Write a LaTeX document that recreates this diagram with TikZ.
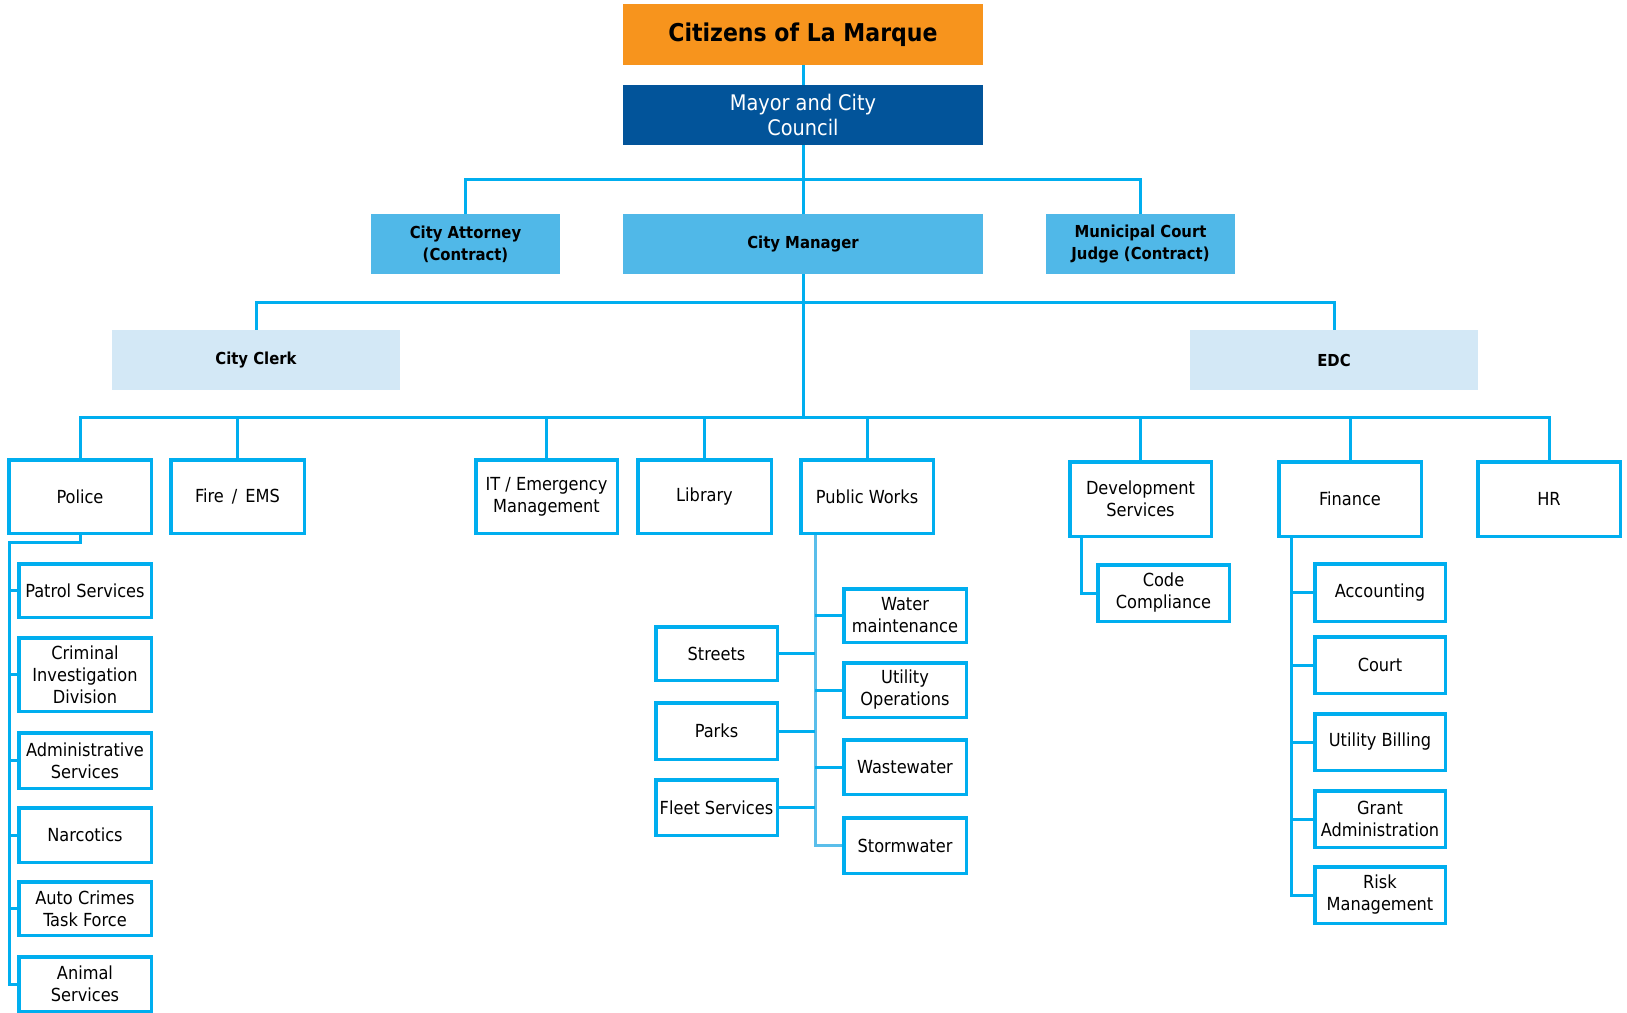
\documentclass[tikz,border=0pt]{standalone}
\usepackage{fontspec}
\setmainfont{DejaVu Sans Condensed}
\usetikzlibrary{calc}

\definecolor{linkblue}{HTML}{00AEEF}
\definecolor{spineblue}{HTML}{5ABEEA}
\definecolor{citorange}{HTML}{F7941D}
\definecolor{mayorblue}{HTML}{02549A}
\definecolor{midblue}{HTML}{50B8E8}
\definecolor{paleblue}{HTML}{D3E8F6}

\begin{document}
\begin{tikzpicture}[x=1pt,y=-1pt,
    conn/.style={draw=linkblue,line width=3pt},
    top/.style 2 args={align=center,inner sep=0pt,minimum width=#1,minimum height=#2},
    head/.style 2 args={top={#1}{#2},font=\bfseries\fontsize{16.5}{22}\selectfont},
    box/.style 2 args={draw=linkblue,line width=3.5pt,fill=white,align=center,inner sep=0pt,
        minimum width=#1-3.5,minimum height=#2-3.5,font=\fontsize{18}{22}\selectfont}]
    \useasboundingbox (0,0) rectangle (1627,1012);

    % Council and top offices
    \node[top={360}{61},fill=citorange,font=\bfseries\fontsize{24.5}{26}\selectfont] (citizens) at (803,34.5) {Citizens of La Marque};
    \node[top={360}{60},fill=mayorblue,text=white,font=\fontsize{21.5}{25}\selectfont] (mayor) at (803,115) {Mayor and City\\Council};
    \node[head={189}{60},fill=midblue] (attorney) at (465.5,244) {City Attorney\\(Contract)};
    \node[head={360}{60},fill=midblue] (manager) at (803,244) {City Manager};
    \node[head={189}{60},fill=midblue] (judge) at (1140.5,244) {Municipal Court\\Judge (Contract)};
    \node[head={288}{60},fill=paleblue] (clerk) at (256,360) {City Clerk};
    \node[head={288}{60},fill=paleblue] (edc) at (1334,360) {EDC};

    % Departments
    \node[box={146}{77}] (police) at (80,496.5) {Police};
    \node[box={137}{77}] (fire) at (237.5,496.5) {Fire\, /\, EMS};
    \node[box={145}{77}] (it) at (546.5,496.5) {IT / Emergency\\Management};
    \node[box={137}{77}] (library) at (704.5,496.5) {Library};
    \node[box={136}{77}] (works) at (867,496.5) {Public Works};
    \node[box={145}{78}] (devel) at (1140.5,499) {Development\\Services};
    \node[box={146}{78}] (finance) at (1350,499) {Finance};
    \node[box={146}{78}] (hr) at (1549,499) {HR};

    % Police divisions
    \node[box={136}{57}] (patrol) at (85,590.5) {Patrol Services};
    \node[box={136}{77}] (cid) at (85,674.5) {Criminal\\Investigation\\Division};
    \node[box={136}{59}] (admin) at (85,760.5) {Administrative\\Services};
    \node[box={136}{58}] (narcotics) at (85,835) {Narcotics};
    \node[box={136}{57}] (autocrimes) at (85,908.5) {Auto Crimes\\Task Force};
    \node[box={136}{58}] (animal) at (85,984) {Animal\\Services};

    % Public works divisions
    \node[box={126}{57}] (water) at (905,615.5) {Water\\maintenance};
    \node[box={126}{58}] (utilops) at (905,690) {Utility\\Operations};
    \node[box={126}{58}] (waste) at (905,767) {Wastewater};
    \node[box={126}{59}] (storm) at (905,845.5) {Stormwater};
    \node[box={125}{57}] (streets) at (716.5,653.5) {Streets};
    \node[box={125}{60}] (parks) at (716.5,731) {Parks};
    \node[box={125}{59}] (fleet) at (716.5,807.5) {Fleet Services};

    % Development and finance divisions
    \node[box={135}{60}] (code) at (1163.5,593) {Code\\Compliance};
    \node[box={134}{61}] (accounting) at (1380,592.5) {Accounting};
    \node[box={134}{60}] (court) at (1380,665) {Court};
    \node[box={134}{60}] (billing) at (1380,742) {Utility Billing};
    \node[box={134}{60}] (grant) at (1380,819) {Grant\\Administration};
    \node[box={134}{60}] (risk) at (1380,895) {Risk\\Management};

    % Connectors
    \coordinate (busA) at (0,179);
    \coordinate (busB) at (0,302);
    \coordinate (busC) at (0,417);
    \draw[conn] (citizens.south) -- (mayor.north);
    \draw[conn] (mayor.south) -- (manager.north);
    \draw[conn] (attorney.north) |- (busA -| mayor) -| (judge.north);
    \draw[conn] (clerk.north) |- (busB -| manager) -| (edc.north);
    \draw[conn] (manager.south) -- (manager.south |- busC);
    \draw[conn] (police.north) |- (busC -| manager) -| (hr.north);
    \foreach \d in {fire,it,library,works,devel,finance}
        \draw[conn] (\d.north) -- (\d.north |- busC);

    \coordinate (pcol) at (9,542);
    \draw[conn] (police.south) |- (pcol) |- (animal.west);
    \foreach \s in {patrol,cid,admin,narcotics,autocrimes}
        \draw[conn] (\s.west) -- (\s.west -| pcol);

    \coordinate (wcol) at (815,0);
    \draw[conn,draw=spineblue] (works.south -| wcol) |- (storm.west);
    \foreach \s in {water,utilops,waste}
        \draw[conn] (\s.west) -- (\s.west -| wcol);
    \foreach \s in {streets,parks,fleet}
        \draw[conn] (\s.east) -- (\s.east -| wcol);

    \coordinate (dcol) at (1081,0);
    \draw[conn] (devel.south -| dcol) |- (code.west);

    \coordinate (fcol) at (1291,0);
    \draw[conn] (finance.south -| fcol) |- (risk.west);
    \foreach \s in {accounting,court,billing,grant}
        \draw[conn] (\s.west) -- (\s.west -| fcol);
\end{tikzpicture}
\end{document}
